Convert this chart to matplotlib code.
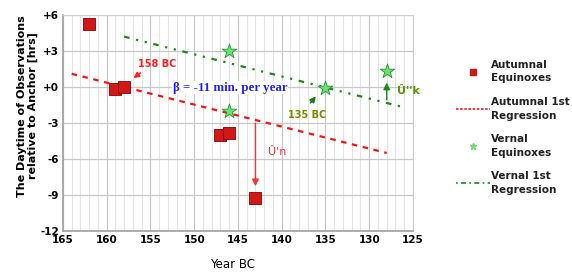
import matplotlib
matplotlib.use('Agg')
import matplotlib.pyplot as plt
import numpy as np
from matplotlib.lines import Line2D

# data
aut_year = [162, 159, 158, 147, 146, 143]
aut_hrs = [5.25, -0.2, 0.0, -4.0, -3.8, -9.25]
ver_year = [146, 146, 135, 128]
ver_hrs = [3.0, -2.0, -0.1, 1.3]
aut_reg_year = [164, 128]
aut_reg_hrs = [1.1, -5.5]
ver_reg_year = [158, 126]
ver_reg_hrs = [4.2, -1.7]
yticks = [6, 3, 0, -3, -6, -9, -12]
ytick_labels = ['+6', '+3', '+0', '-3', '-6', '-9', '-12']
xticks = [165, 160, 155, 150, 145, 140, 135, 130, 125]

fig = plt.figure(figsize=(5.72, 2.73), dpi=100)
ax = fig.add_axes([0.110, 0.154, 0.612, 0.791])

ax.set_xlim(165, 125)
ax.set_ylim(-12, 6)
ax.set_xticks(xticks)
ax.set_xticks(np.arange(125, 166, 1), minor=True)
ax.set_yticks(yticks)
ax.set_yticklabels(ytick_labels)
ax.grid(which='major', color='#c8c8c8', lw=0.9, zorder=0)
ax.grid(which='minor', axis='x', color='#e4e4e4', lw=0.8, zorder=0)
ax.tick_params(which='both', length=0, labelsize=7.5, pad=3)
for lab in ax.get_xticklabels() + ax.get_yticklabels():
    lab.set_fontweight('bold')
for s in ax.spines.values():
    s.set_color('#d0d0d0')
for s in ['left', 'bottom']:
    ax.spines[s].set_color('#a0a0a0')
    ax.spines[s].set_linewidth(1.2)

# regressions
ax.plot(aut_reg_year, aut_reg_hrs, color='#ff1010', lw=1.6,
        ls=(0, (2.5, 2.5)), zorder=3)
ax.plot(ver_reg_year, ver_reg_hrs, color='#1a8a1a', lw=1.6,
        ls=(0, (2.5, 3, 1, 3, 1, 3)), zorder=3)

# points
ax.scatter(aut_year, aut_hrs, marker='s', s=80, color='#d01818',
           edgecolor='#8b0000', lw=0.6, zorder=5)
ax.scatter(ver_year, ver_hrs, marker='*', s=120, color='#6fdc7a',
           edgecolor='#1e9a2a', lw=0.6, zorder=5)

# annotations
ax.annotate('', xy=(157.2, 0.6), xytext=(155.9, 1.3),
            arrowprops=dict(arrowstyle='-|>', color='#ff2020', lw=1.2,
                            mutation_scale=8))
ax.text(154.2, 1.9, '158 BC', color='#ff2020', fontsize=7,
        fontweight='bold', ha='center', va='center')
ax.text(145.9, -0.05, 'β = -11 min. per year', color='#2020ff', fontsize=9.3,
        fontweight='bold', family=['Liberation Serif', 'DejaVu Serif'],
        ha='center', va='center',
        bbox=dict(facecolor='white', edgecolor='none', pad=0.5), zorder=4)
ax.annotate('', xy=(135.9, -0.6), xytext=(136.9, -1.5),
            arrowprops=dict(arrowstyle='-|>', color='#1a7a1a', lw=1.2,
                            mutation_scale=8))
ax.text(137.1, -2.3, '135 BC', color='#7a8a00', fontsize=7,
        fontweight='bold', ha='center', va='center')
ax.annotate('', xy=(143, -8.5), xytext=(143, -2.8),
            arrowprops=dict(arrowstyle='-|>', color='#ff3030', lw=1.0,
                            mutation_scale=10))
ax.text(141.6, -5.4, "Û'n", color='#ff3030', fontsize=8, ha='left', va='center')
ax.annotate('', xy=(128, 0.6), xytext=(128, -1.3),
            arrowprops=dict(arrowstyle='-|>', color='#1a8a1a', lw=1.0,
                            mutation_scale=10))
ax.text(126.8, -0.3, "Û''k", color='#5a9a00', fontsize=8, fontweight='bold',
        ha='left', va='center')

ax.set_xlabel('Year BC', fontsize=8.5)
ax.xaxis.set_label_coords(0.485, -0.125)
ax.set_ylabel('The Daytime of Observations\nrelative to Anchor [hrs]',
              fontsize=8, fontweight='bold', linespacing=1.1)
ax.yaxis.set_label_coords(-0.072, 0.58)

handles = [
    Line2D([], [], ls='none', marker='s', ms=4, color='#d01818'),
    Line2D([], [], color='#ff1010', lw=1.2, ls=(0, (1.5, 1))),
    Line2D([], [], ls='none', marker='*', ms=5, color='#6fdc7a'),
    Line2D([], [], color='#1a8a1a', lw=1.2, ls=(0, (1, 2, 3, 2))),
]
labels = ['Autumnal\nEquinoxes', 'Autumnal 1st\nRegression',
          'Vernal\nEquinoxes', 'Vernal 1st\nRegression']
leg = fig.legend(handles, labels, loc='upper left',
                 bbox_to_anchor=(0.78, 0.815), frameon=False, fontsize=7.5,
                 handlelength=3.3, handletextpad=0.1, labelspacing=1.3)
for t in leg.get_texts():
    t.set_fontweight('bold')
    t.set_color('#222222')
    t.set_linespacing(1.45)

fig.savefig('out.png', dpi=100)
